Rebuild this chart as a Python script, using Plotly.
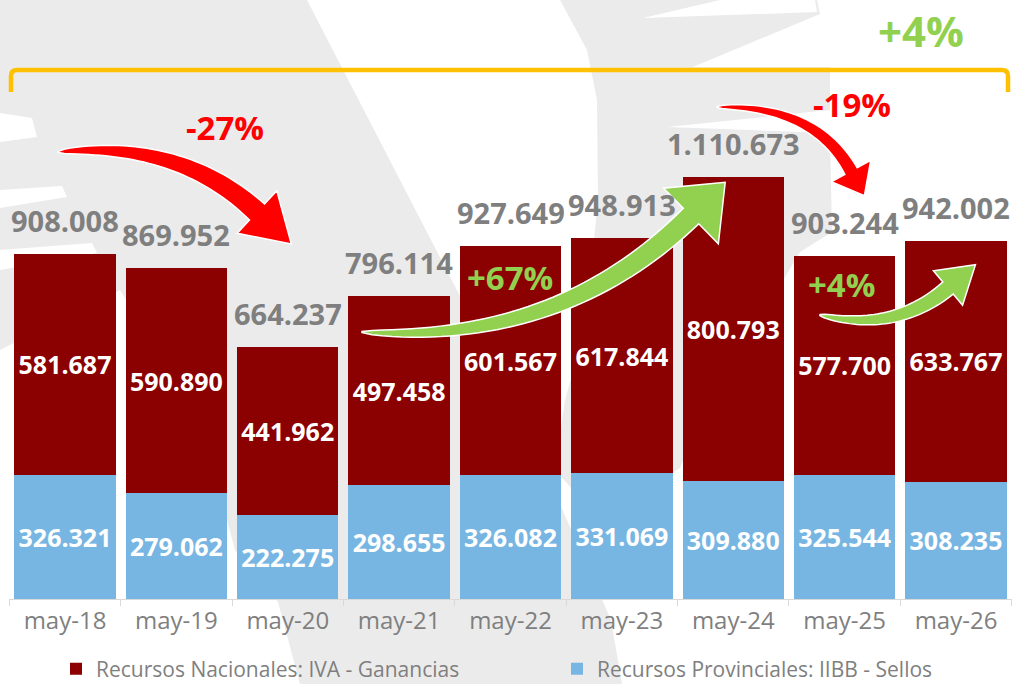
import numpy as np
import plotly.graph_objects as go

FONT = "Open Sans"
GRIS = "#7f7f7f"
ROJO_BARRA = "#8b0000"
AZUL = "#77b6e2"
ROJO = "#ff0000"
VERDE = "#92d050"
AMARILLO = "#ffc000"
FONDO = "#ebebeb"

W, H = 1013, 684
ML, MR, MT, MB = 9, 1, 0, 85
PW, PH = W - ML - MR, H - MT - MB

periodos = ["may-18", "may-19", "may-20", "may-21", "may-22", "may-23", "may-24", "may-25", "may-26"]
nacionales = [581687, 590890, 441962, 497458, 601567, 617844, 800793, 577700, 633767]
provinciales = [326321, 279062, 222275, 298655, 326082, 331069, 309880, 325544, 308235]
totales = [908008, 869952, 664237, 796114, 927649, 948913, 1110673, 903244, 942002]

variaciones = ["-27%", "+67%", "-19%", "+4%", "+4%"]


def px(x, y):
    # pixel de la imagen -> coordenadas paper
    return (x - ML) / PW, (H - MB - y) / PH


def poligono(puntos):
    pts = [px(x, y) for x, y in puntos]
    return "M " + " L ".join(f"{a:.5f},{b:.5f}" for a, b in pts) + " Z"


def flecha(p0, p1, p2, w0, wb, wh, largo):
    p0, p1, p2 = np.array(p0, float), np.array(p1, float), np.array(p2, float)
    t = np.linspace(0, 1, 40)[:, None]
    c = (1 - t) ** 2 * p0 + 2 * (1 - t) * t * p1 + t ** 2 * p2
    d = 2 * (1 - t) * (p1 - p0) + 2 * t * (p2 - p1)
    d = d / np.linalg.norm(d, axis=1)[:, None]
    n = np.stack([-d[:, 1], d[:, 0]], axis=1)
    w = (w0 + (wb - w0) * np.sqrt(t)) / 2
    izq = c + n * w
    der = c - n * w
    punta = p2 + d[-1] * largo
    contorno = list(izq) + [p2 + n[-1] * wh / 2, punta, p2 - n[-1] * wh / 2] + list(der[::-1])
    return poligono([tuple(p) for p in contorno])


fig = go.Figure()

fig.add_trace(go.Bar(
    x=periodos, y=provinciales,
    name="Recursos Provinciales: IIBB - Sellos",
    legend="legend2",
    marker=dict(color=AZUL, line=dict(width=0)),
    texttemplate="%{y:,.0f}", textposition="inside", insidetextanchor="middle",
    textangle=0, constraintext="none",
    textfont=dict(family=FONT, size=25, color="white", weight="bold"),
))
fig.add_trace(go.Bar(
    x=periodos, y=nacionales,
    name="Recursos Nacionales: IVA - Ganancias",
    legend="legend",
    marker=dict(color=ROJO_BARRA, line=dict(width=0)),
    texttemplate="%{y:,.0f}", textposition="inside", insidetextanchor="middle",
    textangle=0, constraintext="none",
    textfont=dict(family=FONT, size=25, color="white", weight="bold"),
))

# totales sobre cada barra
for p, v in zip(periodos, totales):
    fig.add_annotation(
        x=p, y=v, text=f"{v:,}".replace(",", "."),
        showarrow=False, yanchor="bottom", yshift=12,
        font=dict(family=FONT, size=29, color=GRIS, weight="bold"),
    )

# marca de agua de fondo
fondo_gris = [
    [(0, 0), (307, 0), (462, 300), (545, 470), (611, 620), (622, 684), (300, 684),
     (278, 602), (235, 550), (200, 420), (120, 290), (0, 350)],
    [(560, 0), (817, 0), (820, 14), (693, 67), (830, 67), (830, 110), (667, 127),
     (830, 133), (832, 232), (800, 252), (700, 420), (680, 468), (600, 520),
     (555, 470), (565, 400), (585, 330), (593, 250), (598, 200), (597, 100), (587, 50)],
]
fondo_blanco = [
    [(0, 113), (32, 118), (37, 137), (0, 142)],
    [(0, 190), (62, 186), (67, 197), (0, 208)],
    [(0, 250), (92, 243), (97, 253), (0, 270)],
    [(643, 18), (720, 0), (815, 0), (817, 12)],
]
for pts in fondo_gris:
    fig.add_shape(type="path", path=poligono(pts), xref="paper", yref="paper",
                  fillcolor=FONDO, line=dict(width=0), layer="below")
for pts in fondo_blanco:
    fig.add_shape(type="path", path=poligono(pts), xref="paper", yref="paper",
                  fillcolor="white", line=dict(width=0), layer="below")

# llave amarilla superior
a, b = px(11, 92), px(11, 76)
c, d = px(11, 70), px(17, 70)
e, f = px(1002, 70), px(1008, 70)
g, h = px(1008, 76), px(1008, 92)
llave = (f"M {a[0]},{a[1]} L {b[0]},{b[1]} Q {c[0]},{c[1]} {d[0]},{d[1]} "
         f"L {e[0]},{e[1]} Q {f[0]},{f[1]} {g[0]},{g[1]} L {h[0]},{h[1]}")
fig.add_shape(type="path", path=llave, xref="paper", yref="paper",
              line=dict(color=AMARILLO, width=4.5))

# flechas curvas
flechas = [
    (flecha((58, 152), (180, 140), (257, 212), 1, 22, 58, 47), ROJO),
    (flecha((362, 332), (560, 345), (691, 216), 1, 22, 78, 48), VERDE),
    (flecha((717, 107), (815, 105), (851, 171), 1, 14, 45, 28), ROJO),
    (flecha((820, 315), (895, 333), (948, 288), 1, 16, 45, 36), VERDE),
]
for path, color in flechas:
    fig.add_shape(type="path", path=path, xref="paper", yref="paper",
                  fillcolor=color, line=dict(color="white", width=1.5), layer="above")

# etiquetas de variacion
etiquetas = [(225, 127, 33, ROJO), (510, 277, 33, VERDE), (852, 105, 33, ROJO),
             (921, 30, 42, VERDE), (841, 284, 33, VERDE)]
for txt, (x, y, s, col) in zip(variaciones, etiquetas):
    xp, yp = px(x, y)
    fig.add_annotation(x=xp, y=yp, xref="paper", yref="paper", text=txt,
                       showarrow=False, xanchor="center", yanchor="middle",
                       font=dict(family=FONT, size=s, color=col, weight="bold"))

leyenda = dict(orientation="h", xref="container", yref="container",
               y=(H - 669) / H, xanchor="left", yanchor="middle",
               font=dict(family=FONT, size=21, color=GRIS), bgcolor="rgba(0,0,0,0)")

fig.update_layout(
    width=W, height=H,
    margin=dict(l=ML, r=MR, t=MT, b=MB, autoexpand=False),
    barmode="stack", bargap=0.09,
    separators=",.",
    paper_bgcolor="white", plot_bgcolor="rgba(0,0,0,0)",
    font=dict(family=FONT, color=GRIS),
    showlegend=True,
    legend=dict(leyenda, x=56 / W),
    legend2=dict(leyenda, x=557 / W),
    xaxis=dict(showline=True, linecolor="#d9d9d9", linewidth=1,
               ticks="outside", tickson="boundaries", ticklen=6, tickcolor="#d9d9d9",
               tickfont=dict(family=FONT, size=24, color=GRIS), showgrid=False),
    yaxis=dict(range=[0, 1576000], visible=False, showgrid=False),
)

fig.write_html("out.html", config={"displayModeBar": False},
               post_script="document.body.style.margin='0';")
